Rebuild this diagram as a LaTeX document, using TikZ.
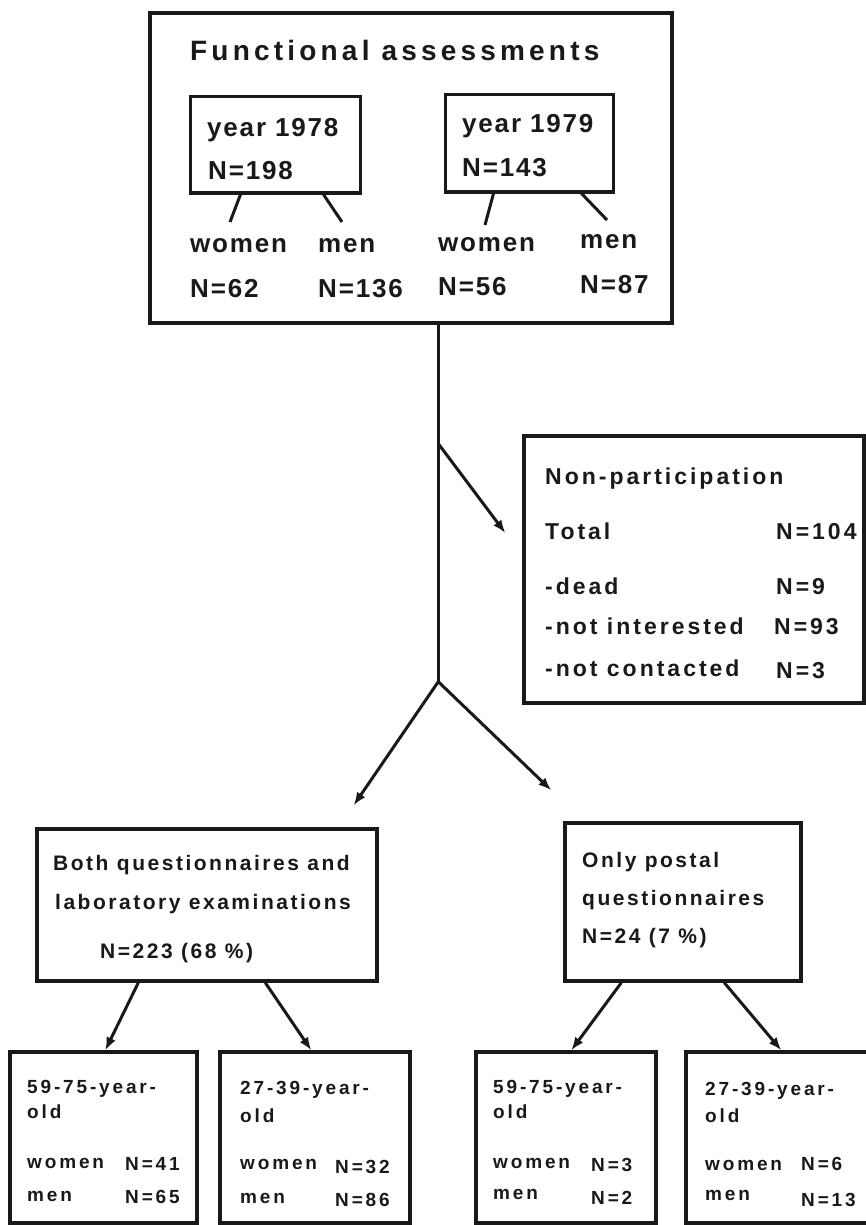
\documentclass[tikz,border=0pt]{standalone}
\usepackage{fontspec}
\setmainfont{Liberation Sans}
\usetikzlibrary{arrows.meta, calc}
\definecolor{inkBlack}{rgb}{0.1, 0.1, 0.1}

\begin{document}
\begin{tikzpicture}[x=1pt, y=-1pt, draw=inkBlack, text=inkBlack,
	box/.style={draw=inkBlack, line width=3.4pt, inner sep=0pt},
	thinbox/.style={draw=inkBlack, line width=3pt, inner sep=0pt},
	lbl/.style={anchor=base west, inner sep=0pt},
	titleFont/.style={lbl, font={\fontsize{28}{32}\selectfont\bfseries\addfontfeature{LetterSpace=15}}},
	topFont/.style={lbl, font={\fontsize{26}{30}\selectfont\bfseries\addfontfeature{LetterSpace=7}}},
	npFont/.style={lbl, font={\fontsize{23}{27}\selectfont\bfseries\addfontfeature{LetterSpace=13}}},
	midFont/.style={lbl, font={\fontsize{21}{25}\selectfont\bfseries\addfontfeature{LetterSpace=12}}},
	ageFont/.style={lbl, font={\fontsize{19}{23}\selectfont\bfseries\addfontfeature{LetterSpace=15}}},
	conn/.style={line width=3pt},
	arr/.style={line width=3pt, -{Latex[length=13pt, width=10pt]}}]

	\useasboundingbox (0,0) rectangle (866,1225);

	% boxes
	\node[box, minimum width=522pt, minimum height=310pt] (main) at (411,168) {};
	\node[thinbox, minimum width=170pt, minimum height=96pt] (y78) at (275,145) {};
	\node[thinbox, minimum width=168pt, minimum height=97pt] (y79) at (529,143.5) {};
	\node[box, minimum width=340pt, minimum height=267pt] (nonPart) at (694,569.5) {};
	\node[box, minimum width=340pt, minimum height=152pt] (both) at (207,905) {};
	\node[box, minimum width=236pt, minimum height=158pt] (postal) at (683,902) {};
	\node[box, minimum width=187pt, minimum height=171pt] (ageA) at (103.5,1137.5) {};
	\node[box, minimum width=190pt, minimum height=171pt] (ageB) at (315,1137.5) {};
	\node[box, minimum width=180pt, minimum height=171pt] (ageC) at (566,1137.5) {};
	\node[box, minimum width=184pt, minimum height=171pt] (ageD) at (778,1137.5) {};

	% functional assessments
	\node[titleFont] (title) at (190,61) {Functional assessments};
	\node[topFont] (yr78) at (207,137) {year 1978};
	\node[topFont] (n78) at (208,179) {N=198};
	\node[topFont] (yr79) at (462,133) {year 1979};
	\node[topFont] (n79) at (462,177) {N=143};
	\node[topFont] (w78) at (190,252) {women};
	\node[topFont] (m78) at (318,252) {men};
	\node[topFont] (nw78) at (190,297) {N=62};
	\node[topFont] (nm78) at (318,297) {N=136};
	\node[topFont] (w79) at (438,251) {women};
	\node[topFont] (m79) at (580,248) {men};
	\node[topFont] (nw79) at (438,295) {N=56};
	\node[topFont] (nm79) at (580,293) {N=87};

	\draw[conn] ($(y78.south west)+(52,0)$) -- ($(w78.base west)+(40,-30)$);
	\draw[conn] ($(y78.south west)+(135,0)$) -- ($(m78.base west)+(24,-30)$);
	\draw[conn] ($(y79.south west)+(50,0)$) -- ($(w79.base west)+(47,-26)$);
	\draw[conn] ($(y79.south west)+(138,0)$) -- ($(m79.base west)+(27,-28)$);

	% non-participation
	\node[npFont] (npHead) at (545,484) {Non-participation};
	\node[npFont] (npTotal) at (545,539) {Total};
	\node[npFont] (npDead) at (545,594) {-dead};
	\node[npFont] (npInt) at (545,634) {-not interested};
	\node[npFont] (npCon) at (545,676) {-not contacted};
	\node[npFont] (nTotal) at (776,539) {N=104};
	\node[npFont] (nDead) at (776,594) {N=9};
	\node[npFont] (nInt) at (774,634) {N=93};
	\node[npFont] (nCon) at (776,678) {N=3};

	% middle level
	\node[midFont] (bothA) at (53,870) {Both questionnaires and};
	\node[midFont] (bothB) at (55,909) {laboratory examinations};
	\node[midFont] (bothN) at (100,958) {N=223 (68 \%)};
	\node[midFont] (postA) at (582,867) {Only postal};
	\node[midFont] (postB) at (582,905) {questionnaires};
	\node[midFont] (postN) at (582,943) {N=24 (7 \%)};

	% age groups
	\node[ageFont] (aAge) at (27,1093) {59-75-year-};
	\node[ageFont] (aOld) at (27,1118) {old};
	\node[ageFont] (aW) at (27,1168) {women};
	\node[ageFont] (aM) at (27,1201) {men};
	\node[ageFont] (aNW) at (125,1170) {N=41};
	\node[ageFont] (aNM) at (125,1203) {N=65};

	\node[ageFont] (bAge) at (240,1094) {27-39-year-};
	\node[ageFont] (bOld) at (240,1122) {old};
	\node[ageFont] (bW) at (240,1169) {women};
	\node[ageFont] (bM) at (240,1203) {men};
	\node[ageFont] (bNW) at (335,1173) {N=32};
	\node[ageFont] (bNM) at (335,1206) {N=86};

	\node[ageFont] (cAge) at (493,1093) {59-75-year-};
	\node[ageFont] (cOld) at (493,1118) {old};
	\node[ageFont] (cW) at (493,1168) {women};
	\node[ageFont] (cM) at (493,1199) {men};
	\node[ageFont] (cNW) at (591,1171) {N=3};
	\node[ageFont] (cNM) at (591,1204) {N=2};

	\node[ageFont] (dAge) at (705,1095) {27-39-year-};
	\node[ageFont] (dOld) at (705,1122) {old};
	\node[ageFont] (dW) at (705,1170) {women};
	\node[ageFont] (dM) at (705,1200) {men};
	\node[ageFont] (dNW) at (801,1170) {N=6};
	\node[ageFont] (dNM) at (801,1206) {N=13};

	% trunk and branches
	\coordinate (tap) at ($(main.south west)+(290,0)$);
	\coordinate (branch) at ($(tap)+(0,119)$);
	\coordinate (fork) at ($(tap)+(0,357)$);
	\coordinate (npTip) at ($(nonPart.west)+(-17,-36.5)$);
	\coordinate (bothTip) at ($(both.north east)+(-25,-22)$);
	\coordinate (postTip) at ($(postal.north west)+(-12,-31)$);

	\draw[conn] (tap) -- (fork);
	\draw[arr] (branch) -- (npTip);
	\draw[arr] (fork) -- (bothTip);
	\draw[arr] (fork) -- (postTip);

	\draw[arr] ($(both.south west)+(103,0)$) -- ($(ageA.north west)+(97,0)$);
	\draw[arr] ($(both.south west)+(230,0)$) -- ($(ageB.north west)+(93,0)$);
	\draw[arr] ($(postal.south west)+(58,0)$) -- ($(ageC.north west)+(97,0)$);
	\draw[arr] ($(postal.south west)+(161,0)$) -- ($(ageD.north west)+(97,0)$);

\end{tikzpicture}
\end{document}
